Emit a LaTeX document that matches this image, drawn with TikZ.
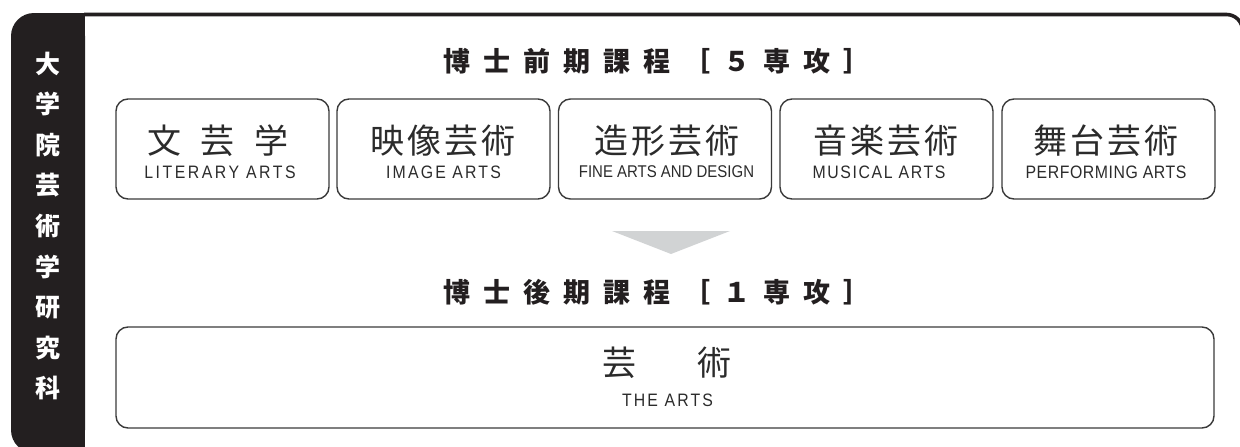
\documentclass[tikz,border=0pt]{standalone}
\usepackage{fontspec}
\newfontfamily\jp{Noto Sans CJK JP}
\newfontfamily\en[FakeStretch=0.88]{Liberation Sans}
\definecolor{barblack}{HTML}{231F20}
\definecolor{linegray}{HTML}{3A3A3A}
\definecolor{txtgray}{HTML}{2B2B2B}
\definecolor{arrowgray}{HTML}{D1D3D4}
\newcommand\tgap{\hspace{13pt}}
\tikzset{
  course/.style={draw=linegray, line width=1.4pt, rounded corners=12pt,
    minimum width=213pt, minimum height=100pt, inner sep=0pt},
  jname/.style={font=\jp\fontsize{34}{36}\selectfont, text=txtgray, inner sep=0pt},
  ename/.style={font=\en\fontsize{18}{20}\selectfont, text=txtgray, inner sep=0pt},
  titletext/.style={font=\jp\bfseries\fontsize{27}{30}\selectfont, text=barblack, inner sep=0pt},
}
\begin{document}
\begin{tikzpicture}[x=1pt,y=-1pt]
\useasboundingbox (0,0) rectangle (1240,447);
\clip (0,0) rectangle (1240,447);
% left black bar
\fill[barblack, rounded corners=23pt] (11,13) rectangle (85,453);
\fill[barblack] (50,13) rectangle (85,453);
\node[font=\jp\bfseries\fontsize{25}{40.6}\selectfont, text=white, align=center, inner sep=0pt]
  (dept) at (48,226) {大\\学\\院\\芸\\術\\学\\研\\究\\科};
% top frame line
\draw[barblack, line width=3.6pt, rounded corners=16pt] (84,14.5) -- (1242.5,14.5) -- (1242.5,470);
% title 1
\node[titletext] (t1) at (657,61) {博\tgap 士\tgap 前\tgap 期\tgap 課\tgap 程\tgap ［\tgap ５\tgap 専\tgap 攻\tgap ］};
% first stage boxes
\node[course] (b1) at (222.5,149) {};
\node[course] (b2) at (443.5,149) {};
\node[course] (b3) at (665,149) {};
\node[course] (b4) at (886.5,149) {};
\node[course] (b5) at (1108.5,149) {};
\node[jname] (j1) at (218,141) {文\hspace{20pt}芸\hspace{20pt}学};
\node[jname, font=\jp\fontsize{34}{36}\selectfont\addfontfeature{LetterSpace=8}] (j2) at (443,141) {映像芸術};
\node[jname, font=\jp\fontsize{34}{36}\selectfont\addfontfeature{LetterSpace=8}] (j3) at (667,141) {造形芸術};
\node[jname, font=\jp\fontsize{34}{36}\selectfont\addfontfeature{LetterSpace=8}] (j4) at (886,141) {音楽芸術};
\node[jname, font=\jp\fontsize{34}{36}\selectfont\addfontfeature{LetterSpace=8}] (j5) at (1106,141) {舞台芸術};
\node[ename, font=\en\fontsize{18}{20}\selectfont\addfontfeature{LetterSpace=14}] (e1) at (220,172) {LITERARY ARTS};
\node[ename, font=\en\fontsize{18}{20}\selectfont\addfontfeature{LetterSpace=12}] (e2) at (443.5,172) {IMAGE ARTS};
\node[ename, font=\en\fontsize{17}{19}\selectfont] (e3) at (666.5,172) {FINE ARTS AND DESIGN};
\node[ename, font=\en\fontsize{18}{20}\selectfont\addfontfeature{LetterSpace=9}] (e4) at (879,172) {MUSICAL ARTS};
\node[ename, font=\en\fontsize{18}{20}\selectfont\addfontfeature{LetterSpace=3}] (e5) at (1106,172) {PERFORMING ARTS};
% arrow
\fill[arrowgray] (612,231) -- (730,231) -- (671,254) -- cycle;
% title 2
\node[titletext] (t2) at (657,292) {博\tgap 士\tgap 後\tgap 期\tgap 課\tgap 程\tgap ［\tgap １\tgap 専\tgap 攻\tgap ］};
% doctoral box
\node[course, minimum width=1098pt, minimum height=101pt] (b6) at (665,377.5) {};
\node[jname] (j6) at (666.5,363) {芸\hspace{61pt}術};
\node[ename, font=\en\fontsize{18}{20}\selectfont\addfontfeature{LetterSpace=12}] (e6) at (667.5,400) {THE ARTS};
\end{tikzpicture}
\end{document}
